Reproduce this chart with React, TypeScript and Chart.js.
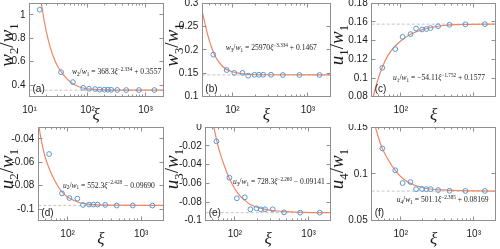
import React, { useEffect, useRef } from 'react';
import { Chart, registerables } from 'chart.js';
Chart.register(...registerables);

// ---------------- data ----------------
const xiA = [15, 35, 56, 84, 106, 136, 162, 196, 224, 256, 325, 465, 770, 1420];
const xiB = [56, 84, 106, 136, 162, 196, 224, 256, 325, 465, 770, 1420];

const w2 = [1.045, 0.51, 0.425, 0.376, 0.368, 0.365, 0.361, 0.36, 0.36, 0.359, 0.358, 0.357, 0.357, 0.357];
const w3 = [0.19, 0.157, 0.151, 0.151, 0.145, 0.147, 0.147, 0.147, 0.147, 0.1465, 0.1465, 0.1465];
const u1 = [0.111, 0.131, 0.144, 0.147, 0.153, 0.152, 0.1525, 0.1535, 0.1555, 0.157, 0.1575, 0.1577];
const u2 = [-0.0529, -0.0866, -0.0906, -0.0911, -0.0965, -0.0962, -0.0962, -0.0962, -0.0965, -0.097, -0.097, -0.097];
const u3 = [-0.015, -0.054, -0.076, -0.075, -0.0878, -0.0868, -0.0878, -0.0878, -0.0878, -0.091, -0.0914, -0.0914];
const u4 = [0.1274, 0.104, 0.0903, 0.0914, 0.0838, 0.084, 0.0838, 0.0838, 0.0828, 0.082, 0.0819, 0.0819];

// fitted curves
const fitXiA = [16, 18, 20, 23, 26, 30, 35, 42, 50, 60, 75, 95, 130, 200, 400, 2000];
const fitW2 = [1.1, 0.944, 0.832, 0.716, 0.638, 0.567, 0.515, 0.465, 0.428, 0.402, 0.381, 0.369, 0.362, 0.358, 0.3562, 0.3557];
const fitXiB = [40, 44, 48, 53, 58, 65, 75, 85, 100, 120, 150, 200, 300, 2000];
const fitW3 = [0.282, 0.252, 0.228, 0.206, 0.19, 0.176, 0.164, 0.158, 0.1535, 0.1505, 0.1485, 0.1475, 0.147, 0.1467];
const fitXiC = [42, 46.8, 54.8, 67.5, 83.4, 106, 141, 204, 345, 719, 2000];
const fitU1 = [0.08, 0.094, 0.11, 0.1248, 0.134, 0.1412, 0.1474, 0.1521, 0.1557, 0.1574, 0.1577];
const fitXiD = [40.5, 44.5, 49.3, 56.4, 67.4, 83, 108, 147, 223, 400, 2000];
const fitU2 = [-0.028, -0.043, -0.055, -0.0655, -0.076, -0.085, -0.091, -0.0946, -0.0962, -0.0967, -0.0969];
const fitXiE = [51.5, 54, 59.3, 69.3, 83, 107.5, 137, 169, 256, 431, 893, 2000];
const fitU3 = [0, -0.007, -0.021, -0.038, -0.054, -0.07, -0.0785, -0.0835, -0.0878, -0.09, -0.0911, -0.0914];
const fitXiF = [45, 50, 54.8, 67.6, 84, 108, 149, 227, 425, 2000];
const fitU4 = [0.15, 0.138, 0.129, 0.115, 0.104, 0.095, 0.0885, 0.0845, 0.0828, 0.0817];

const asymptotes = [0.3557, 0.1467, 0.1577, -0.0969, -0.09141, 0.08169];

const xMin = [10, 40, 40, 40, 40, 40];
const xMax = [2000, 2000, 2000, 2000, 2000, 2000];
const yMin = [0.3, 0.1, 0.08, -0.11, -0.1, 0.05];
const yMax = [1.1, 0.3, 0.18, -0.03, 0, 0.15];

const xTicksA = [10, 100, 1000];
const xTickLabelsA = ['10¹', '10²', '10³'];
const xTicksB = [100, 1000];
const xTickLabelsB = ['10²', '10³'];
const xTicksC = [100];
const xTickLabelsC = ['10²'];

const yTicksA = [0.4, 0.6, 0.8, 1];
const yTickLabelsA = ['0.4', '0.6', '0.8', '1'];
const yTicksB = [0.1, 0.15, 0.2, 0.25, 0.3];
const yTickLabelsB = ['0.1', '0.15', '0.2', '0.25', '0.3'];
const yTicksC = [0.08, 0.1, 0.12, 0.14, 0.16, 0.18];
const yTickLabelsC = ['0.08', '0.1', '0.12', '0.14', '0.16', '0.18'];
const yTicksD = [-0.1, -0.08, -0.06, -0.04];
const yTickLabelsD = ['-0.1', '-0.08', '-0.06', '-0.04'];
const yTicksE = [-0.1, -0.08, -0.06, -0.04, -0.02, 0];
const yTickLabelsE = ['-0.1', '-0.08', '-0.06', '-0.04', '-0.02', '0'];
const yTicksF = [0.05, 0.1, 0.15];
const yTickLabelsF = ['0.05', '0.1', '0.15'];

const panelLabels = ['(a)', '(b)', '(c)', '(d)', '(e)', '(f)'];
const yLetter = ['w', 'w', 'u', 'u', 'u', 'u'];
const ySub = ['2', '3', '1', '2', '3', '4'];
const fitCoef = ['368.3', '25970', '−54.11', '552.3', '728.3', '501.1'];
const fitExp = ['−2.334', '−3.334', '−1.752', '−2.428', '−2.260', '−2.385'];
const fitConst = [' + 0.3557', ' + 0.1467', ' + 0.1577', ' − 0.09690', ' − 0.09141', ' + 0.08169'];

// ---------------- layout / style ----------------
const BLUE = 'rgb(86,152,214)';
const ORANGE = 'rgb(240,134,98)';
const FRAME = '#8f8f8f';
const DASH = '#c4c4c4';
const SERIF = "'Liberation Serif', 'DejaVu Serif', serif";
const SANS = "'Liberation Sans', Arial, sans-serif";

const BOXES = [
  { cl: 0, ct: 0, cw: 168, ch: 124, L: 29.5, R: 163, T: 3.3, B: 96.7 },
  { cl: 165, ct: 0, cw: 168, ch: 124, L: 202.3, R: 330.7, T: 3.3, B: 96.7 },
  { cl: 330, ct: 0, cw: 170, ch: 124, L: 371.7, R: 495.7, T: 3.3, B: 96.7 },
  { cl: 0, ct: 124, cw: 168, ch: 125, L: 38.3, R: 163.3, T: 127.3, B: 220.7 },
  { cl: 165, ct: 124, cw: 168, ch: 125, L: 205.7, R: 330.7, T: 127.3, B: 220.7 },
  { cl: 330, ct: 124, cw: 170, ch: 125, L: 371.7, R: 495.7, T: 127.3, B: 220.7 },
];
const annFx = [0.318, 0.182, 0.172, 0.198, 0.218, 0.202];
const annFy = [0.732, 0.471, 0.792, 0.618, 0.578, 0.778];

const PANELS = [
  { xi: xiA, ys: w2, fx: fitXiA, fy: fitW2, xt: xTicksA, xl: xTickLabelsA, yt: yTicksA, yl: yTickLabelsA },
  { xi: xiB, ys: w3, fx: fitXiB, fy: fitW3, xt: xTicksB, xl: xTickLabelsB, yt: yTicksB, yl: yTickLabelsB },
  { xi: xiB, ys: u1, fx: fitXiC, fy: fitU1, xt: xTicksC, xl: xTickLabelsC, yt: yTicksC, yl: yTickLabelsC },
  { xi: xiB, ys: u2, fx: fitXiD, fy: fitU2, xt: xTicksB, xl: xTickLabelsB, yt: yTicksD, yl: yTickLabelsD },
  { xi: xiB, ys: u3, fx: fitXiE, fy: fitU3, xt: xTicksB, xl: xTickLabelsB, yt: yTicksE, yl: yTickLabelsE },
  { xi: xiB, ys: u4, fx: fitXiF, fy: fitU4, xt: xTicksB, xl: xTickLabelsB, yt: yTicksF, yl: yTickLabelsF },
];

type Seg = { t: string; it?: boolean; sup?: boolean; sub?: boolean };

function segFont(s: Seg, size: number) {
  const fs = s.sup || s.sub ? size * 0.68 : size;
  return `${s.it ? 'italic ' : ''}${fs}px ${SERIF}`;
}
function measureSegs(ctx: CanvasRenderingContext2D, segs: Seg[], size: number) {
  let w = 0;
  for (const s of segs) {
    ctx.font = segFont(s, size);
    w += ctx.measureText(s.t).width;
  }
  return w;
}
function drawSegs(ctx: CanvasRenderingContext2D, segs: Seg[], x: number, y: number, size: number) {
  let cx = x;
  ctx.textAlign = 'left';
  ctx.textBaseline = 'alphabetic';
  for (const s of segs) {
    ctx.font = segFont(s, size);
    const dy = s.sup ? -size * 0.42 : s.sub ? size * 0.24 : 0;
    ctx.fillText(s.t, cx, y + dy);
    cx += ctx.measureText(s.t).width;
  }
}

function makeDecor(i: number) {
  const p = PANELS[i];
  return {
    id: 'decor' + i,
    afterDatasetsDraw(chart: any) {
      const { ctx, chartArea: a } = chart;
      const xs = chart.scales.x;
      const ysc = chart.scales.y;
      ctx.save();
      ctx.strokeStyle = FRAME;
      ctx.lineWidth = 1;
      const l = Math.floor(a.left) + 0.5;
      const r = Math.floor(a.right) + 0.5;
      const t = Math.floor(a.top) + 0.5;
      const b = Math.floor(a.bottom) + 0.5;
      ctx.strokeRect(l, t, r - l, b - t);
      // log ticks, inward
      ctx.beginPath();
      const d0 = Math.floor(Math.log10(xMin[i]));
      const d1 = Math.ceil(Math.log10(xMax[i]));
      for (let d = d0; d <= d1; d++) {
        for (let k = 1; k <= 9; k++) {
          const v = k * Math.pow(10, d);
          if (v < xMin[i] || v > xMax[i]) continue;
          const px = Math.floor(xs.getPixelForValue(v)) + 0.5;
          const len = k === 1 ? 4 : 2;
          ctx.moveTo(px, b);
          ctx.lineTo(px, b - len);
          ctx.moveTo(px, t);
          ctx.lineTo(px, t + len);
        }
      }
      for (const v of p.yt) {
        const py = Math.floor(ysc.getPixelForValue(v)) + 0.5;
        ctx.moveTo(l, py);
        ctx.lineTo(l + 4, py);
        ctx.moveTo(r, py);
        ctx.lineTo(r - 4, py);
      }
      ctx.stroke();

      ctx.fillStyle = '#1a1a1a';
      // panel label
      ctx.font = `10px ${SANS}`;
      ctx.textAlign = 'left';
      ctx.textBaseline = 'middle';
      ctx.fillText(panelLabels[i], a.left + 3, a.bottom - 7.5);

      // fit formula
      const segs: Seg[] = [
        { t: yLetter[i], it: true },
        { t: ySub[i], sub: true },
        { t: '/' },
        { t: 'w', it: true },
        { t: '1', sub: true },
        { t: ' = ' + fitCoef[i] },
        { t: 'ξ', it: true },
        { t: fitExp[i], sup: true },
        { t: fitConst[i] },
      ];
      const ax = a.left + annFx[i] * (a.right - a.left);
      const ay = a.top + annFy[i] * (a.bottom - a.top) + 2.5;
      drawSegs(ctx, segs, ax, ay, 7.6);

      // y title (rotated)
      const tsegs: Seg[] = [
        { t: yLetter[i], it: true },
        { t: ySub[i], sub: true },
        { t: '/' },
        { t: 'w', it: true },
        { t: '1', sub: true },
      ];
      ctx.save();
      ctx.translate(13, (a.top + a.bottom) / 2 - 5);
      ctx.rotate(-Math.PI / 2);
      const tw = measureSegs(ctx, tsegs, 19);
      drawSegs(ctx, tsegs, -tw / 2, 0, 19);
      ctx.restore();

      // x title
      ctx.font = `italic 17px ${SERIF}`;
      ctx.textAlign = 'center';
      ctx.textBaseline = 'middle';
      ctx.fillText('ξ', (a.left + a.right) / 2, 116);
      ctx.restore();
    },
  };
}

function buildConfig(i: number): any {
  const box = BOXES[i];
  const p = PANELS[i];
  const yW = box.L - box.cl;
  const rp = box.cl + box.cw - box.R;
  const tp = box.T - box.ct;
  const xH = box.ct + box.ch - box.B;
  return {
    type: 'scatter',
    data: {
      datasets: [
        {
          data: p.xi.map((v, k) => ({ x: v, y: p.ys[k] })),
          pointRadius: 2.4,
          pointBorderWidth: 1,
          pointBorderColor: BLUE,
          pointBackgroundColor: 'rgba(0,0,0,0)',
          showLine: false,
        },
        {
          data: p.fx.map((v, k) => ({ x: v, y: p.fy[k] })),
          showLine: true,
          borderColor: ORANGE,
          borderWidth: 1.2,
          pointRadius: 0,
          cubicInterpolationMode: 'monotone',
          fill: false,
        },
        {
          data: [
            { x: xMin[i], y: asymptotes[i] },
            { x: xMax[i], y: asymptotes[i] },
          ],
          showLine: true,
          borderColor: DASH,
          borderDash: [3, 2],
          borderWidth: 1,
          pointRadius: 0,
          fill: false,
        },
      ],
    },
    options: {
      animation: false,
      responsive: false,
      events: [],
      layout: { padding: { left: 0, right: rp, top: tp, bottom: 0 }, autoPadding: false },
      plugins: { legend: { display: false }, tooltip: { enabled: false } },
      scales: {
        x: {
          type: 'logarithmic',
          min: xMin[i],
          max: xMax[i],
          bounds: 'data',
          grid: { display: false, drawTicks: false },
          border: { display: false },
          ticks: {
            font: { family: SANS, size: 10 },
            color: '#1a1a1a',
            padding: 8,
            autoSkip: false,
            maxRotation: 0,
            minRotation: 0,
            callback: (_v: any, k: number) => p.xl[k],
          },
          afterBuildTicks: (s: any) => {
            s.ticks = p.xt.map((v) => ({ value: v }));
          },
          afterFit: (s: any) => {
            s.height = xH;
            s.paddingLeft = 0;
            s.paddingRight = 0;
          },
        },
        y: {
          type: 'linear',
          min: yMin[i],
          max: yMax[i],
          bounds: 'data',
          grid: { display: false, drawTicks: false },
          border: { display: false },
          ticks: {
            font: { family: SANS, size: 10 },
            color: '#1a1a1a',
            padding: 4,
            autoSkip: false,
            callback: (_v: any, k: number) => p.yl[k],
          },
          afterBuildTicks: (s: any) => {
            s.ticks = p.yt.map((v) => ({ value: v }));
          },
          afterFit: (s: any) => {
            s.width = yW;
            s.paddingTop = 0;
            s.paddingBottom = 0;
          },
        },
      },
    },
    plugins: [makeDecor(i)],
  };
}

function Panel({ i }: { i: number }) {
  const ref = useRef<HTMLCanvasElement>(null);
  const box = BOXES[i];
  useEffect(() => {
    const chart = new Chart(ref.current as HTMLCanvasElement, buildConfig(i));
    return () => chart.destroy();
  }, [i]);
  return (
    <canvas
      ref={ref}
      width={box.cw}
      height={box.ch}
      style={{ position: 'absolute', left: box.cl, top: box.ct, width: box.cw, height: box.ch, display: 'block' }}
    />
  );
}

export default function App() {
  return (
    <div style={{ position: 'absolute', left: 0, top: 0, width: 500, height: 249, background: '#fff', overflow: 'hidden' }}>
      {BOXES.map((_, i) => (
        <Panel key={i} i={i} />
      ))}
    </div>
  );
}
